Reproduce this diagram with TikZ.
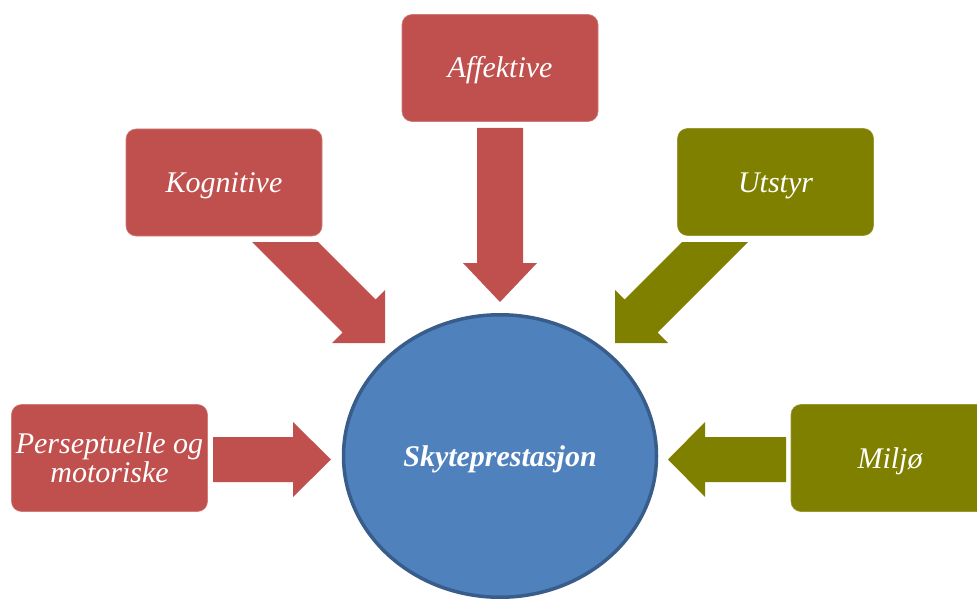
\documentclass[tikz,border=0pt]{standalone}
\usepackage{fontspec}
\setmainfont{Liberation Serif}
\usetikzlibrary{shapes.geometric}
\definecolor{redbox}{HTML}{C0504D}
\definecolor{olivebox}{HTML}{808000}
\definecolor{bluefill}{HTML}{4F81BD}
\definecolor{blueline}{HTML}{385D8A}
\begin{document}
\begin{tikzpicture}[x=1pt,y=-1pt,
  box/.style={rectangle, rounded corners=10pt, minimum width=196pt, minimum height=107pt,
    inner sep=2pt, text=white, align=center,
    font=\fontsize{30}{29}\selectfont\itshape},
  oneline/.style={text height=27pt, text depth=7pt},
  redb/.style={box, fill=redbox, draw=redbox!75!white, line width=0.6pt},
  oliveb/.style={box, fill=olivebox, draw=olivebox!80!white, line width=0.6pt},
  redarrow/.style={fill=redbox},
  olivearrow/.style={fill=olivebox}]
\useasboundingbox (0,0) rectangle (977,599);

% boxes
\node[redb, oneline] (aff) at (500,68) {Affektive};
\node[redb, oneline] (kog) at (224,182.5) {Kognitive};
\node[oliveb, oneline] (uts) at (775.5,182) {Utstyr};
\node[redb] (per) at (109.5,458) {Perseptuelle og\\motoriske};
\node[oliveb, oneline, minimum width=198pt] (mil) at (890,458) {Miljø};

% block arrows
\fill[redarrow] (477,128) -- (523,128) -- (523,263) -- (537,263) -- (500,302)
  -- (463,263) -- (477,263) -- cycle;
\fill[redarrow] (213,437) -- (293,437) -- (293,422) -- (331,459.5) -- (293,497)
  -- (293,482) -- (213,482) -- cycle;
\fill[olivearrow] (786,437) -- (705,437) -- (705,422) -- (668,459.5) -- (705,497)
  -- (705,482) -- (786,482) -- cycle;
\fill[redarrow] (252,242) -- (318,242) -- (375.5,299.5) -- (385,290) -- (385,343)
  -- (332,343) -- (342.5,332.5) -- cycle;
\fill[olivearrow] (748,242) -- (682,242) -- (624.5,299.5) -- (615,290) -- (615,343)
  -- (668,343) -- (657.5,332.5) -- cycle;

% centre
\node[ellipse, minimum width=313pt, minimum height=282.5pt, inner sep=0pt,
  fill=bluefill, draw=blueline, line width=3.5pt, text=white,
  text height=28pt, text depth=7pt,
  font=\fontsize{30}{33}\selectfont\bfseries\itshape] (c) at (500,456) {Skyteprestasjon};
\end{tikzpicture}
\end{document}
